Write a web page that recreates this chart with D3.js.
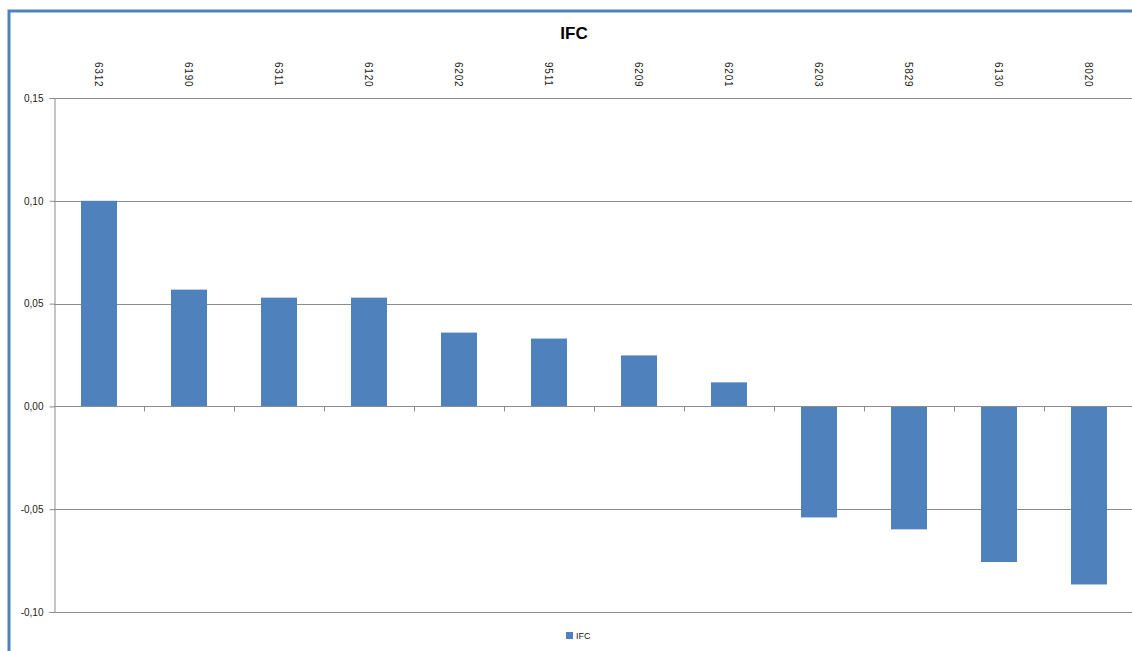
<!DOCTYPE html>
<html><head><meta charset="utf-8">
<script src="https://cdn.jsdelivr.net/npm/d3@7"></script>
<style>body{margin:0;background:#fff;overflow:hidden}svg{display:block}</style>
</head><body>
<svg id="c" width="1132" height="651"></svg>
<script>
const categories = ["6312","6190","6311","6120","6202","9511","6209","6201","6203","5829","6130","8020"];
const values = [0.100, 0.0568, 0.0529, 0.0529, 0.0359, 0.0330, 0.0248, 0.0117, -0.0540, -0.0598, -0.0757, -0.0866];
const yTicks = [0.15, 0.10, 0.05, 0.00, -0.05, -0.10];
const seriesName = "IFC";

const svg = d3.select("#c");
const plotLeft = 54, plotRight = 1134, plotTop = 98, plotBottom = 612;
const color = "#4F81BD";

// frame
svg.append("path").attr("d", `M9,651 V11 H1132`).attr("fill","none").attr("stroke","#4F81BD").attr("stroke-width",3);

const x = d3.scaleBand().domain(categories).range([plotLeft, plotRight]).paddingInner(0.6).paddingOuter(0.3);
const xb = d3.scaleBand().domain(categories).range([plotLeft, plotRight]);
const y = d3.scaleLinear().domain([-0.10, 0.15]).range([plotBottom, plotTop]);

// gridlines
svg.append("g").selectAll("line").data(yTicks).join("line")
  .attr("x1", plotLeft).attr("x2", 1132).attr("y1", d=>Math.round(y(d))+0.5).attr("y2", d=>Math.round(y(d))+0.5)
  .attr("stroke","#8c8c8c").attr("stroke-width",1);

// y axis
const fmt = d => d3.format(".2f")(d).replace(".", ",").replace("−","-");
const ya = svg.append("g").attr("transform",`translate(${plotLeft+0.5},0)`)
  .call(d3.axisLeft(y).tickValues(yTicks).tickSize(5).tickFormat(fmt));
ya.select(".domain").attr("stroke","#8c8c8c");
ya.selectAll(".tick line").attr("stroke","#8c8c8c");
ya.selectAll(".tick text").attr("font-family","Liberation Sans, Arial, sans-serif").attr("font-size",10).attr("fill","#222").attr("x",-11);

// bars
svg.append("g").selectAll("rect").data(values).join("rect")
  .attr("x", (d,i)=>x(categories[i]))
  .attr("width", x.bandwidth())
  .attr("y", d=>y(Math.max(0,d)))
  .attr("height", d=>Math.abs(y(d)-y(0)))
  .attr("fill", color);

// zero line axis with ticks
const z = Math.round(y(0))+0.5;
svg.append("line").attr("x1",plotLeft).attr("x2",1132).attr("y1",z).attr("y2",z).attr("stroke","#8c8c8c");
svg.append("g").selectAll("line").data(categories.slice(1)).join("line")
  .attr("x1", d=>Math.round(xb(d))+0.5).attr("x2", d=>Math.round(xb(d))+0.5)
  .attr("y1", z).attr("y2", z+5).attr("stroke","#8c8c8c");

// category labels (rotated)
svg.append("g").selectAll("text").data(categories).join("text")
  .attr("transform", d=>`translate(${xb(d)+xb.bandwidth()/2-4},62) rotate(90)`)
  .attr("font-family","Liberation Sans, Arial, sans-serif").attr("font-size",10).attr("fill","#222")
  .attr("letter-spacing","0.8px")
  .attr("text-anchor","start").text(d=>d);

// title
svg.append("text").attr("x",574).attr("y",39).attr("text-anchor","middle")
  .attr("font-family","Liberation Sans, Arial, sans-serif").attr("font-weight","bold").attr("font-size",17).attr("fill","#000").text(seriesName);

// legend
svg.append("rect").attr("x",566).attr("y",632).attr("width",7).attr("height",7).attr("fill",color);
svg.append("text").attr("x",576).attr("y",639).attr("font-family","Liberation Sans, Arial, sans-serif").attr("font-size",9).attr("fill","#222").text(seriesName);
</script>
</body></html>
